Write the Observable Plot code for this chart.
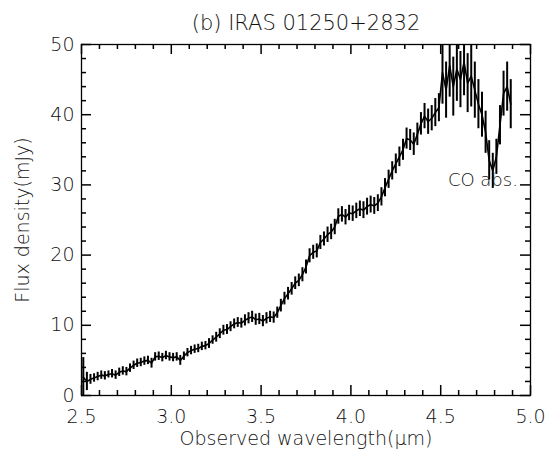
<!DOCTYPE html>
<html><head><meta charset="utf-8">
<script src="https://cdn.jsdelivr.net/npm/d3@7"></script>
<script src="https://cdn.jsdelivr.net/npm/@observablehq/plot@0.6"></script>
<style>body{margin:0;background:#fff}</style>
</head><body><div id="chart"></div>
<script>
const wavelength = [
  2.51,2.53,2.55,2.57,2.59,2.61,2.63,2.65,2.67,2.69,
  2.71,2.73,2.75,2.77,2.79,2.81,2.83,2.85,2.87,2.89,
  2.91,2.93,2.95,2.97,2.99,3.01,3.03,3.05,3.07,3.09,
  3.11,3.13,3.15,3.17,3.19,3.21,3.23,3.25,3.27,3.29,
  3.31,3.33,3.35,3.37,3.39,3.41,3.43,3.45,3.47,3.49,
  3.51,3.53,3.55,3.57,3.59,3.61,3.63,3.65,3.67,3.69,
  3.71,3.73,3.75,3.77,3.79,3.81,3.83,3.85,3.87,3.89,
  3.91,3.93,3.95,3.97,3.99,4.01,4.03,4.05,4.07,4.09,
  4.11,4.13,4.15,4.17,4.19,4.21,4.23,4.25,4.27,4.29,
  4.31,4.33,4.35,4.37,4.39,4.41,4.43,4.45,4.47,4.49,
  4.51,4.53,4.55,4.57,4.59,4.61,4.63,4.65,4.67,4.69,
  4.71,4.73,4.75,4.77,4.79,4.81,4.83,4.85,4.87,4.89
];
const flux = [
  2.6,2.0,2.3,2.5,2.7,2.9,2.8,3.0,3.1,2.9,
  3.3,3.5,3.4,3.9,4.3,4.6,4.7,4.9,5.0,4.6,
  5.5,5.6,5.4,5.7,5.5,5.4,5.5,5.0,5.6,6.1,
  6.4,6.6,6.7,7.0,7.1,7.4,7.9,8.3,8.8,9.3,
  9.4,9.8,10.2,10.4,10.3,10.7,11.0,11.2,10.8,10.9,
  10.6,11.0,11.2,11.1,11.8,12.8,13.8,14.5,15.2,16.0,
  16.4,17.2,18.3,19.9,20.4,20.6,21.8,22.3,22.9,23.3,
  24.0,25.5,25.8,25.4,26.0,25.9,26.3,26.6,26.4,26.9,
  27.2,27.0,27.4,28.3,29.6,30.8,32.0,33.0,34.0,35.0,
  36.6,36.4,35.8,37.2,38.7,39.8,39.0,39.5,40.3,41.0,
  46.0,43.5,47.0,44.0,46.5,45.0,47.5,44.5,45.5,43.5,
  41.5,40.0,37.5,33.5,32.0,34.0,38.5,43.0,44.0,41.5
];
const fluxErr = [
  2.8,1.3,
  0.7,0.6,0.6,0.6,0.6,0.5,0.6,0.6,0.6,0.6,
  0.6,0.6,0.6,0.6,0.6,0.6,0.6,0.7,0.6,0.6,
  0.6,0.6,0.6,0.6,0.6,0.7,0.6,0.6,0.6,0.6,
  0.6,0.6,0.6,0.7,0.6,0.7,0.7,0.7,0.7,0.7,
  0.7,0.7,0.7,0.8,0.8,0.8,0.8,0.8,
  0.8,0.8,0.8,0.8,0.8,0.9,0.9,0.9,0.9,0.9,0.9,1.0,1.0,1.0,1.0,1.0,1.0,1.0,1.1,1.1,1.1,1.1,1.1,1.1,1.1,
  1.1,1.1,1.1,1.2,1.2,1.2,1.2,1.2,1.3,1.3,1.3,1.3,1.4,1.4,1.5,1.5,1.5,1.6,1.6,1.6,1.8,1.8,1.8,2.0,2.0,
  4.5,4.0,4.5,4.2,4.6,4.0,4.8,4.2,4.4,4.0,
  3.5,3.2,3.0,2.8,2.5,2.5,2.8,3.2,3.5,3.5
];
const xMajorTicks = [2.5,3.0,3.5,4.0,4.5,5.0];
const xMinorTicks = [2.6,2.7,2.8,2.9,3.1,3.2,3.3,3.4,3.6,3.7,3.8,3.9,4.1,4.2,4.3,4.4,4.6,4.7,4.8,4.9];
const yMajorTicks = [0,10,20,30,40,50];
const yMinorTicks = [2,4,6,8,12,14,16,18,22,24,26,28,32,34,36,38,42,44,46,48];
const titleText = "(b) IRAS 01250+2832";
const xLabel = "Observed wavelength(\u03bcm)";
const yLabel = "Flux density(mJy)";
const annoText = ["CO abs."];
const annoX = [4.54];
const annoY = [30.7];

const data = wavelength.map((w, i) => ({w, f: flux[i], e: fluxErr[i]}));
const annos = annoText.map((t, i) => ({t, x: annoX[i], y: annoY[i]}));
const font = "'DejaVu Sans', sans-serif";
const txt = "#111";
const W = 547, H = 455, mL = 81, mR = 17, mT = 44, mB = 60;
const iw = W - mL - mR, ih = H - mT - mB;
const xDom = [2.5, 5.0], yDom = [0, 50];
const major = 10, minor = 5;
const tk = {stroke: "black", strokeWidth: 1.5, strokeOpacity: 1};

const chart = Plot.plot({
  width: W, height: H,
  marginLeft: mL, marginRight: mR, marginTop: mT, marginBottom: mB,
  x: {domain: xDom, label: null},
  y: {domain: yDom, label: null},
  style: {fontFamily: font, fontSize: "19px", fontWeight: 200, background: "#fff"},
  marks: [
    Plot.ruleX(data, {x: "w", y1: d => Math.max(d.f - d.e, yDom[0]), y2: d => Math.min(d.f + d.e, yDom[1]), stroke: "#000", strokeWidth: 2}),
    Plot.line(data, {x: "w", y: "f", stroke: "#000", strokeWidth: 1.6}),
    Plot.axisX(xMajorTicks, {anchor: "bottom", tickSize: 0, tickPadding: 14, tickFormat: d3.format(".1f"), fontSize: 19, fill: txt}),
    Plot.axisY(yMajorTicks, {anchor: "left", tickSize: 0, tickPadding: 7, tickFormat: d => String(d), fontSize: 19, fill: txt}),
    Plot.frame({stroke: "#000", strokeWidth: 1.3}),
    Plot.text(annos, {x: "x", y: "y", text: "t", textAnchor: "start", fontSize: 18, fill: txt}),
    Plot.text([titleText], {frameAnchor: "top", text: d => d, dy: -29, fontSize: 21, fill: txt}),
    Plot.text([xLabel], {frameAnchor: "bottom", text: d => d, dy: 49, fontSize: 19, fill: txt}),
    Plot.text([yLabel], {frameAnchor: "left", textAnchor: "middle", text: d => d, dx: -59, rotate: -90, fontSize: 19, fill: txt}),
    // inward ticks on all four sides (drawn last)
    Plot.tickX(xMajorTicks, {x: d => d, insetTop: ih - major, ...tk}),
    Plot.tickX(xMinorTicks, {x: d => d, insetTop: ih - minor, ...tk}),
    Plot.tickX(xMajorTicks, {x: d => d, insetBottom: ih - major, ...tk}),
    Plot.tickX(xMinorTicks, {x: d => d, insetBottom: ih - minor, ...tk}),
    Plot.tickY(yMajorTicks, {y: d => d, insetRight: iw - major, ...tk}),
    Plot.tickY(yMinorTicks, {y: d => d, insetRight: iw - minor, ...tk}),
    Plot.tickY(yMajorTicks, {y: d => d, insetLeft: iw - major, ...tk}),
    Plot.tickY(yMinorTicks, {y: d => d, insetLeft: iw - minor, ...tk})
  ]
});
document.getElementById("chart").appendChild(chart);
</script>
</body></html>
